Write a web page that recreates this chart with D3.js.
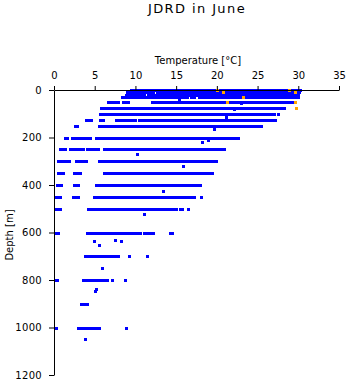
<!DOCTYPE html>
<html>
<head>
<meta charset="utf-8">
<script src="https://cdn.jsdelivr.net/npm/d3@7/dist/d3.min.js"></script>
<style>
  html, body { margin: 0; padding: 0; background: #fff; }
  svg { display: block; }
  text { font-family: "DejaVu Sans", "Liberation Sans", sans-serif; fill: #000; }
</style>
</head>
<body>
<svg id="chart" width="348" height="384"></svg>
<script>
// Sampling depths (m) of the June casts
const depthLevels = [0, 10, 20, 30, 50, 75, 100, 125, 150, 200, 250, 300, 350, 400, 450, 500, 600, 700, 800, 900, 1000];

// Observed temperature spans (°C) at each depth: [lowest, highest] of a contiguous cluster
const tempRuns = [
  [[9.4, 17.4], [17.8, 30.2]],
  [[9.0, 10.4], [10.8, 12.2], [12.6, 13.7], [14.1, 15.5], [15.9, 30.1]],
  [[8.8, 9.7], [10.1, 11.1], [11.5, 12.8], [13.2, 14.5], [14.9, 30.0]],
  [[8.4, 16.3], [16.8, 17.2], [17.8, 30.0]],
  [[6.6, 7.85], [8.45, 9.1], [12.05, 28.7], [28.9, 29.2]],
  [[5.8, 6.5], [6.85, 7.65], [8.0, 8.65], [8.9, 10.2], [10.35, 10.5], [10.8, 27.3], [27.55, 28.2]],
  [[5.7, 10.7], [10.95, 14.0], [14.2, 27.0], [27.5, 27.5]],
  [[3.9, 4.6], [5.7, 6.05], [7.65, 8.1], [8.5, 9.2], [9.5, 10.0], [10.4, 14.0], [14.2, 15.0], [15.3, 27.1]],
  [[2.55, 2.85], [5.5, 9.5], [9.8, 11.2], [11.5, 24.4], [24.6, 25.4]],
  [[1.3, 1.55], [2.15, 2.7], [2.9, 3.3], [3.6, 4.45], [5.2, 5.5], [5.95, 22.65]],
  [[0.7, 1.4], [2.0, 2.75], [2.95, 3.6], [4.0, 4.75], [5.1, 5.4], [6.2, 20.9]],
  [[0.5, 1.8], [2.65, 3.9], [5.5, 9.3], [9.6, 19.9]],
  [[0.5, 1.1], [2.45, 3.25], [6.2, 6.5], [6.85, 7.2], [7.65, 8.45], [8.7, 18.1], [18.4, 18.9], [19.3, 19.4]],
  [[0.4, 0.9], [2.4, 2.95], [5.1, 5.95], [6.1, 7.6], [7.85, 10.2], [10.4, 17.9]],
  [[0.3, 0.7], [2.35, 2.9], [4.9, 5.2], [5.4, 5.75], [5.95, 6.7], [6.8, 16.25], [16.55, 17.15], [18.0, 18.0]],
  [[0.3, 0.7], [4.15, 15.0], [15.45, 15.7], [16.4, 16.4]],
  [[0.2, 0.5], [4.0, 10.6], [11.0, 11.4], [11.75, 12.1], [14.2, 14.5]],
  [[3.8, 7.9], [9.2, 9.2], [11.45, 11.45]],
  [[0.1, 0.35], [3.55, 6.5], [7.1, 7.1], [8.7, 8.7]],
  [[3.3, 4.05]],
  [[0.2, 0.2], [2.95, 5.55], [8.9, 8.9]]
];

// Single readings off the standard depths
const strayTemps  = [15.4, 23.0, 22.1, 21.1, 19.7, 18.2, 18.9, 10.2, 15.9, 13.4, 11.0, 4.95, 5.5, 7.55, 8.2, 5.95, 5.1, 5.0, 3.85];
const strayDepths = [41,   55,   82,   112,  163,  218,  212,  270,  320,  425,  520,  636,  652, 632,  636, 750,  838, 846, 1050];

// Flagged (suspect) readings near the surface
const flaggedTemps  = [20.0, 20.7, 23.2, 21.2, 28.8, 29.6, 29.6, 29.7];
const flaggedDepths = [0,    10,   30,   50,   0,    10,   50,   75];

const tempTicks  = [0, 5, 10, 15, 20, 25, 30, 35];
const depthTicks = [0, 200, 400, 600, 800, 1000, 1200];

const svg = d3.select("#chart");

const x = d3.scaleLinear().domain([0, 35]).range([54, 339]);
const y = d3.scaleLinear().domain([0, 1200]).range([90, 375]);

// Title and axis titles
svg.append("text")
  .attr("x", 197).attr("y", 13)
  .attr("text-anchor", "middle")
  .attr("font-size", 13)
  .attr("letter-spacing", 1.4)
  .text("JDRD in June");

svg.append("text")
  .attr("x", 198).attr("y", 64)
  .attr("text-anchor", "middle")
  .attr("font-size", 10)
  .text("Temperature [°C]");

svg.append("text")
  .attr("transform", "translate(13,235) rotate(-90)")
  .attr("text-anchor", "middle")
  .attr("font-size", 10)
  .text("Depth [m]");

// Observation marks
const marks = svg.append("g").attr("shape-rendering", "crispEdges");

const runData = [];
depthLevels.forEach((d, i) => tempRuns[i].forEach(r => runData.push({ depth: d, lo: r[0], hi: r[1] })));

marks.selectAll("rect.run")
  .data(runData)
  .join("rect")
  .attr("class", "run")
  .attr("x", d => Math.round(x(d.lo)) - 1)
  .attr("y", d => Math.round(y(d.depth)) - 1)
  .attr("width", d => Math.round(x(d.hi)) - Math.round(x(d.lo)) + 3)
  .attr("height", 3)
  .attr("fill", "#0000ff");

marks.selectAll("rect.stray")
  .data(d3.zip(strayTemps, strayDepths))
  .join("rect")
  .attr("class", "stray")
  .attr("x", d => Math.round(x(d[0])) - 1)
  .attr("y", d => Math.round(y(d[1])) - 1)
  .attr("width", 3).attr("height", 3)
  .attr("fill", "#0000ff");

marks.selectAll("rect.flag")
  .data(d3.zip(flaggedTemps, flaggedDepths))
  .join("rect")
  .attr("class", "flag")
  .attr("x", d => Math.round(x(d[0])) - 1)
  .attr("y", d => Math.round(y(d[1])) - 1)
  .attr("width", 3).attr("height", 3)
  .attr("fill", "#ffa500");

// Axes: temperature along the top, depth increasing downward
const xAxis = svg.append("g")
  .attr("transform", "translate(0,90)")
  .call(d3.axisTop(x).tickValues(tempTicks).tickFormat(d3.format("d"))
    .tickSizeInner(4).tickSizeOuter(0).tickPadding(7));

const yAxis = svg.append("g")
  .attr("transform", "translate(54,0)")
  .call(d3.axisLeft(y).tickValues(depthTicks).tickFormat(d3.format("d"))
    .tickSizeInner(5).tickSizeOuter(0).tickPadding(7));

[xAxis, yAxis].forEach(g => {
  g.attr("font-family", null).attr("font-size", null);
  g.selectAll("text").attr("font-size", 10).attr("fill", "#000");
  g.selectAll("line, path").attr("stroke", "#000");
});
yAxis.selectAll("text").attr("letter-spacing", 0.3);
</script>
</body>
</html>
